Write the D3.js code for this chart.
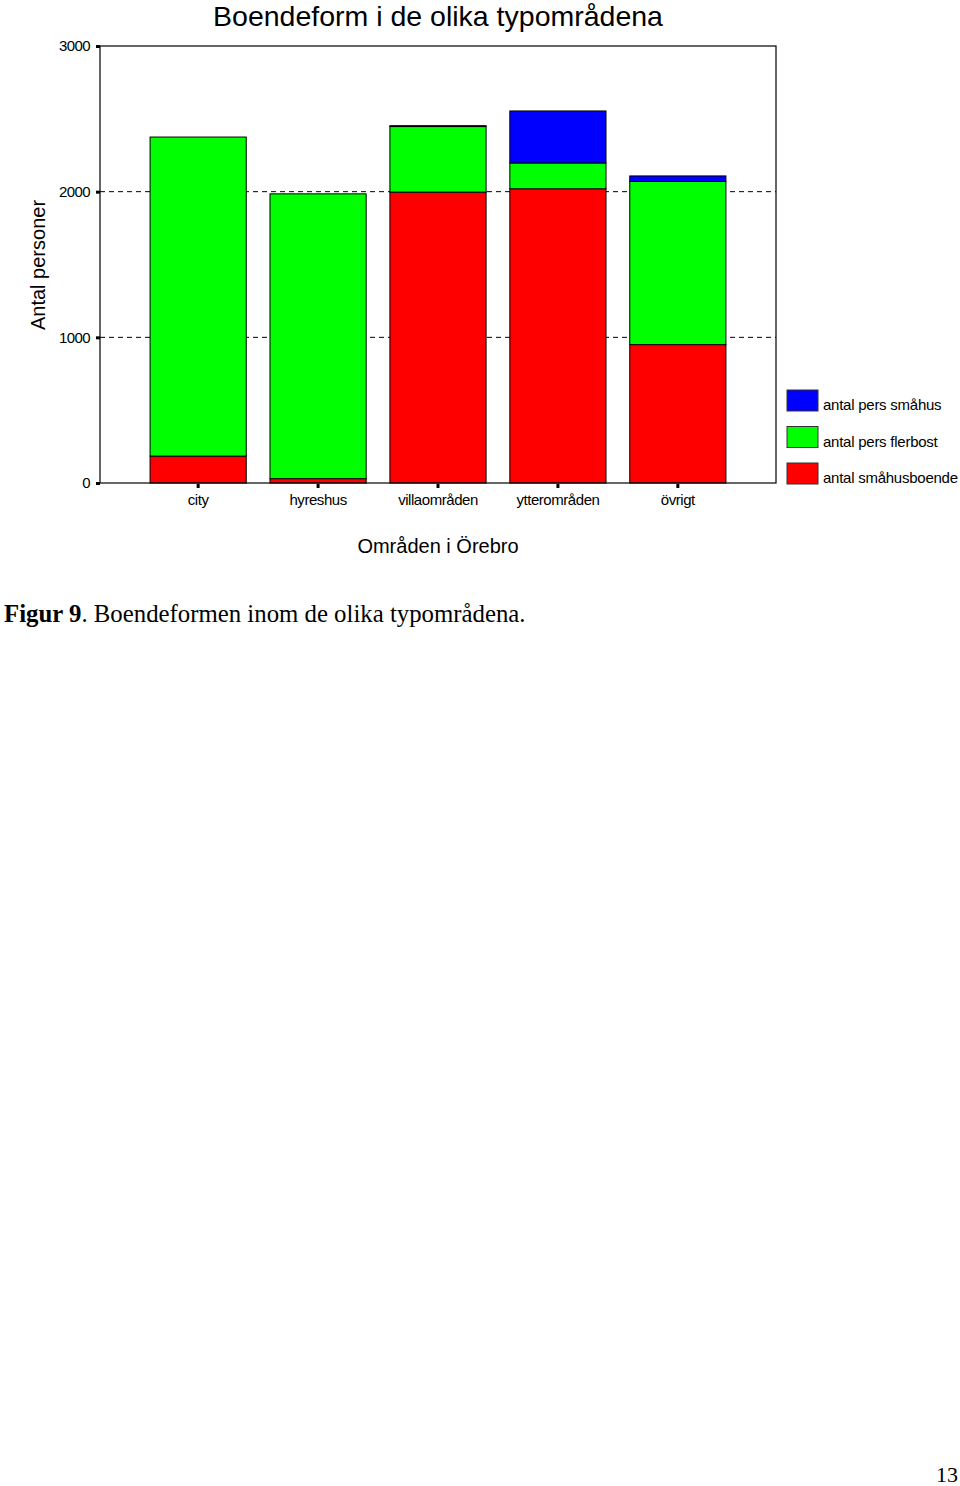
<!DOCTYPE html>
<html>
<head>
<meta charset="utf-8">
<script src="https://cdn.jsdelivr.net/npm/d3@7"></script>
<style>
  body { margin: 0; background: #fff; }
  svg { display: block; }
</style>
</head>
<body>
<div id="chart"></div>
<script>
const categories = ['city', 'hyreshus', 'villaområden', 'ytterområden', 'övrigt'];
const smahusboende = [185, 30, 1997, 2020, 950];
const persFlerbost = [2190, 1955, 450, 177, 1120];
const persSmahus = [0, 0, 6, 357, 38];
const yTicks = [0, 1000, 2000, 3000];
const seriesNames = ['antal småhusboende', 'antal pers flerbost', 'antal pers småhus'];
const seriesColors = ['#ff0000', '#00ff00', '#0000ff'];

const W = 960, H = 1486;
const svg = d3.select('#chart').append('svg')
  .attr('width', W)
  .attr('height', H);

const plot = { left: 100, right: 776, top: 46, bottom: 483 };

const x = d3.scaleBand()
  .domain(categories)
  .range([plot.left, plot.right])
  .paddingInner(0.198)
  .paddingOuter(0.4175);

const y = d3.scaleLinear()
  .domain([0, 3000])
  .range([plot.bottom, plot.top]);

const rows = categories.map((c, i) => ({
  cat: c,
  s0: smahusboende[i],
  s1: persFlerbost[i],
  s2: persSmahus[i],
}));
const stacked = d3.stack().keys(['s0', 's1', 's2'])(rows);

// dashed grid lines
svg.append('g')
  .selectAll('line')
  .data([1000, 2000])
  .enter()
  .append('line')
  .attr('x1', plot.left)
  .attr('x2', plot.right)
  .attr('y1', d => y(d))
  .attr('y2', d => y(d))
  .attr('stroke', '#000')
  .attr('stroke-width', 1)
  .attr('stroke-dasharray', '5,4');

// bars
svg.append('g')
  .selectAll('g')
  .data(stacked)
  .enter()
  .append('g')
  .attr('fill', (d, i) => seriesColors[i])
  .selectAll('rect')
  .data(d => d.filter(p => p[1] > p[0]))
  .enter()
  .append('rect')
  .attr('x', d => x(d.data.cat))
  .attr('width', x.bandwidth())
  .attr('y', d => y(d[1]))
  .attr('height', d => y(d[0]) - y(d[1]))
  .attr('stroke', '#000')
  .attr('stroke-width', 1);

// frame
svg.append('rect')
  .attr('x', plot.left)
  .attr('y', plot.top)
  .attr('width', plot.right - plot.left)
  .attr('height', plot.bottom - plot.top)
  .attr('fill', 'none')
  .attr('stroke', '#000')
  .attr('stroke-width', 1.2);

// y axis ticks + labels
const yAxis = d3.axisLeft(y)
  .tickValues(yTicks)
  .tickSize(4)
  .tickPadding(6)
  .tickFormat(d3.format('d'));

svg.append('g')
  .attr('transform', `translate(${plot.left},0)`)
  .call(yAxis)
  .call(g => g.select('.domain').remove())
  .call(g => g.selectAll('.tick line').attr('stroke-width', 3))
  .call(g => g.selectAll('.tick text')
    .attr('font-family', 'Liberation Sans, Arial, sans-serif')
    .attr('font-size', 15)
    .attr('letter-spacing', '-0.6px')
    .attr('fill', '#000'));

// x axis ticks + labels
const xAxis = d3.axisBottom(x)
  .tickSize(4)
  .tickPadding(6)
  .tickSizeOuter(0);

svg.append('g')
  .attr('transform', `translate(0,${plot.bottom + 1})`)
  .call(xAxis)
  .call(g => g.select('.domain').remove())
  .call(g => g.selectAll('.tick line').attr('stroke-width', 3))
  .call(g => g.selectAll('.tick text')
    .attr('font-family', 'Liberation Sans, Arial, sans-serif')
    .attr('font-size', 15)
    .attr('letter-spacing', '-0.45px')
    .attr('fill', '#000'));

// titles
svg.append('text')
  .attr('x', 438)
  .attr('y', 26)
  .attr('text-anchor', 'middle')
  .attr('font-family', 'Liberation Sans, Arial, sans-serif')
  .attr('font-size', 28.5)
  .text('Boendeform i de olika typområdena');

svg.append('text')
  .attr('transform', 'translate(45,265) rotate(-90)')
  .attr('text-anchor', 'middle')
  .attr('font-family', 'Liberation Sans, Arial, sans-serif')
  .attr('font-size', 20)
  .text('Antal personer');

svg.append('text')
  .attr('x', 438)
  .attr('y', 553)
  .attr('text-anchor', 'middle')
  .attr('font-family', 'Liberation Sans, Arial, sans-serif')
  .attr('font-size', 20)
  .text('Områden i Örebro');

// legend (top-down: blue, green, red)
const legendItems = [2, 1, 0];
const legend = svg.append('g')
  .selectAll('g')
  .data(legendItems)
  .enter()
  .append('g')
  .attr('transform', (d, i) => `translate(787,${390 + i * 36.5})`);

legend.append('rect')
  .attr('width', 31)
  .attr('height', 21)
  .attr('fill', d => seriesColors[d])
  .attr('stroke', '#333')
  .attr('stroke-width', 1);

legend.append('text')
  .attr('x', 36)
  .attr('y', 20)
  .attr('font-family', 'Liberation Sans, Arial, sans-serif')
  .attr('font-size', 15)
  .attr('letter-spacing', '-0.25px')
  .text(d => seriesNames[d]);

// caption
const cap = svg.append('text')
  .attr('x', 4)
  .attr('y', 622)
  .attr('font-family', 'Liberation Serif, Times New Roman, serif')
  .attr('font-size', 24.8);
cap.append('tspan').attr('font-weight', 'bold').text('Figur 9');
cap.append('tspan').text('. Boendeformen inom de olika typområdena.');

// page number
svg.append('text')
  .attr('x', 958)
  .attr('y', 1482)
  .attr('text-anchor', 'end')
  .attr('font-family', 'Liberation Serif, Times New Roman, serif')
  .attr('font-size', 22)
  .text('13');
</script>
</body>
</html>
